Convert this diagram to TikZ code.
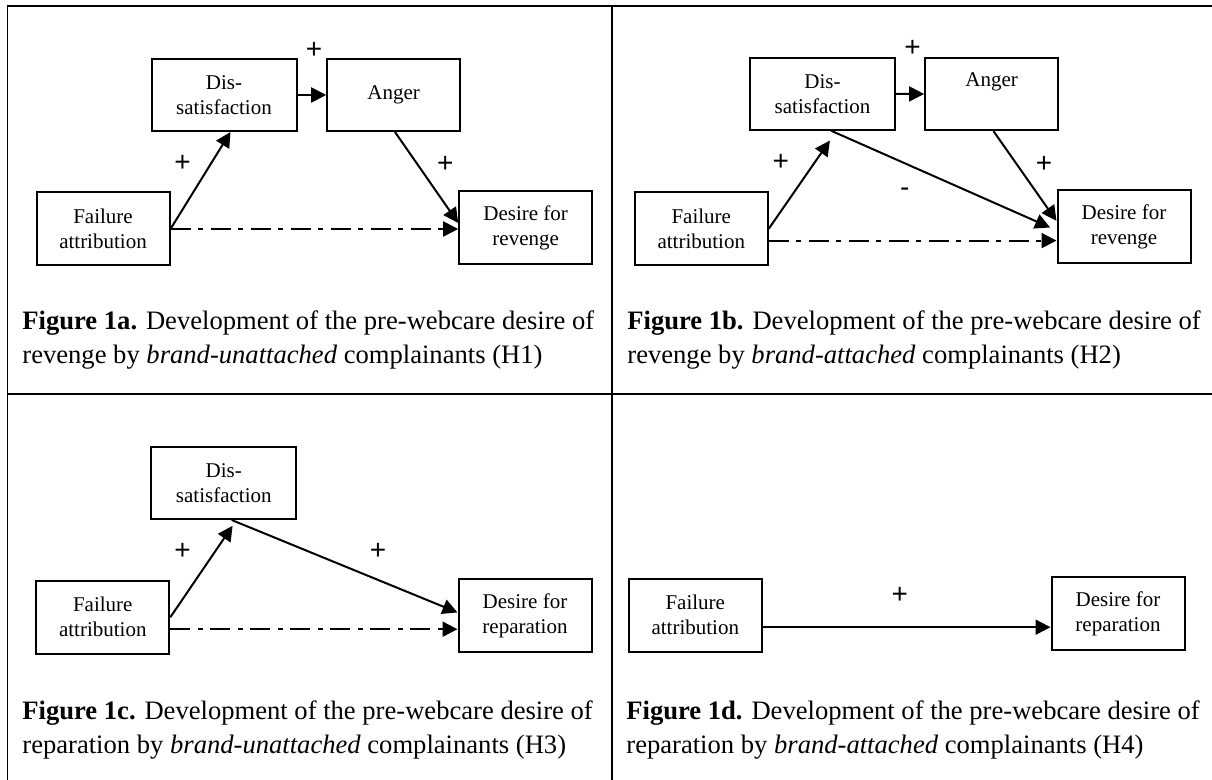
\documentclass[tikz,border=0pt]{standalone}
\usepackage{fontspec}
\setmainfont{Liberation Serif}
\newfontfamily\signfont{Liberation Sans}
\usetikzlibrary{arrows.meta}
\begin{document}
\begin{tikzpicture}[x=0.5pt, y=-0.5pt, line join=miter, >={Triangle[length=7.5pt,width=7.5pt]},
	box/.style={draw, line width=1pt, align=center, inner sep=0pt, minimum width=66.5pt, minimum height=36.5pt, font=\fontsize{10.5}{12.5}\selectfont},
	wide/.style={box, minimum width=72.5pt, minimum height=36pt},
	link/.style={->, line width=1pt},
	hint/.style={link, dash pattern=on 10pt off 3.75pt on 2.5pt off 3.75pt},
	sign/.style={inner sep=0pt, font=\signfont\fontsize{14}{16}\selectfont},
	caption/.style={anchor=west, align=left, inner sep=0pt, font=\fontsize{13.3}{17}\selectfont}]
	\useasboundingbox (0,0) rectangle (1212,780);
	% table rules
	\draw[line width=0.9pt] (1212,6) -- (7.5,6) -- (7.5,780) (612,6) -- (612,780) (7.5,394) -- (1212,394);
	% 1a
	\node[wide] (ds1) at (224,95) {Dis-\\satisfaction};
	\node[box, minimum height=36pt] (ang1) at (393.7,95) {Anger};
	\node[box] (fa1) at (103,229) {Failure\\attribution};
	\node[box] (dr1) at (525.7,227.7) {Desire for\\revenge};
	\draw[link] (ds1) -- (ang1);
	\draw[link] (fa1.east) -- (ds1.-80);
	\draw[link] (ang1.-88) -- (dr1.176);
	\draw[hint] (fa1.east) -- (fa1.east -| dr1.west);
	\node[sign] (s1a) at (314,50) {+};
	\node[sign] (s1b) at (182.5,163) {+};
	\node[sign] (s1c) at (445.3,164) {+};
	\node[caption] (cap1) at (22,340) {\textbf{Figure 1a.} Development of the pre-webcare desire of\\revenge by \textit{brand-unattached} complainants (H1)};
	% 1b
	\node[wide] (ds2) at (822.5,93.7) {Dis-\\satisfaction};
	\node[box, minimum height=36pt] (ang2) at (991.6,94.2) {Anger\\\phantom{g}};
	\node[box] (fa2) at (701.3,228.7) {Failure\\attribution};
	\node[box] (dr2) at (1124,226.8) {Desire for\\revenge};
	\draw[link] (ds2) -- (ang2);
	\draw[link, shorten >=6pt] (fa2.east) -- (ds2.-69);
	\draw[link, shorten >=3.5pt] (ds2.-77) -- (dr2.183);
	\draw[link] (ang2.-87) -- (dr2.175);
	\draw[hint] (fa2.-10) -- (fa2.-10 -| dr2.west);
	\node[sign] (s2a) at (912.5,48.3) {+};
	\node[sign] (s2b) at (780.7,162.3) {+};
	\node[sign] (s2c) at (1044,164) {+};
	\node[sign] (s2d) at (904.8,192.7) {-};
	\node[caption] (cap2) at (627,340) {\textbf{Figure 1b.} Development of the pre-webcare desire of\\revenge by \textit{brand-attached} complainants (H2)};
	% 1c
	\node[wide] (ds3) at (223.8,483) {Dis-\\satisfaction};
	\node[box] (fa3) at (102.8,617.3) {Failure\\attribution};
	\node[box] (dr3) at (525,616) {Desire for\\reparation};
	\draw[link, shorten >=3.5pt] (fa3.east) -- (ds3.-71);
	\draw[link] (ds3.-78) -- (dr3.177);
	\draw[hint] (fa3.-10) -- (fa3.-10 -| dr3.west);
	\node[sign] (s3a) at (182.5,551) {+};
	\node[sign] (s3b) at (378,551) {+};
	\node[caption] (cap3) at (22,730) {\textbf{Figure 1c.} Development of the pre-webcare desire of\\reparation by \textit{brand-unattached} complainants (H3)};
	% 1d
	\node[box] (fa4) at (695.3,615.3) {Failure\\attribution};
	\node[box] (dr4) at (1118,613.7) {Desire for\\reparation};
	\draw[link] (fa4.-10) -- (fa4.-10 -| dr4.west);
	\node[sign] (s4a) at (899.8,595) {+};
	\node[caption] (cap4) at (626,730) {\textbf{Figure 1d.} Development of the pre-webcare desire of\\reparation by \textit{brand-attached} complainants (H4)};
\end{tikzpicture}
\end{document}
